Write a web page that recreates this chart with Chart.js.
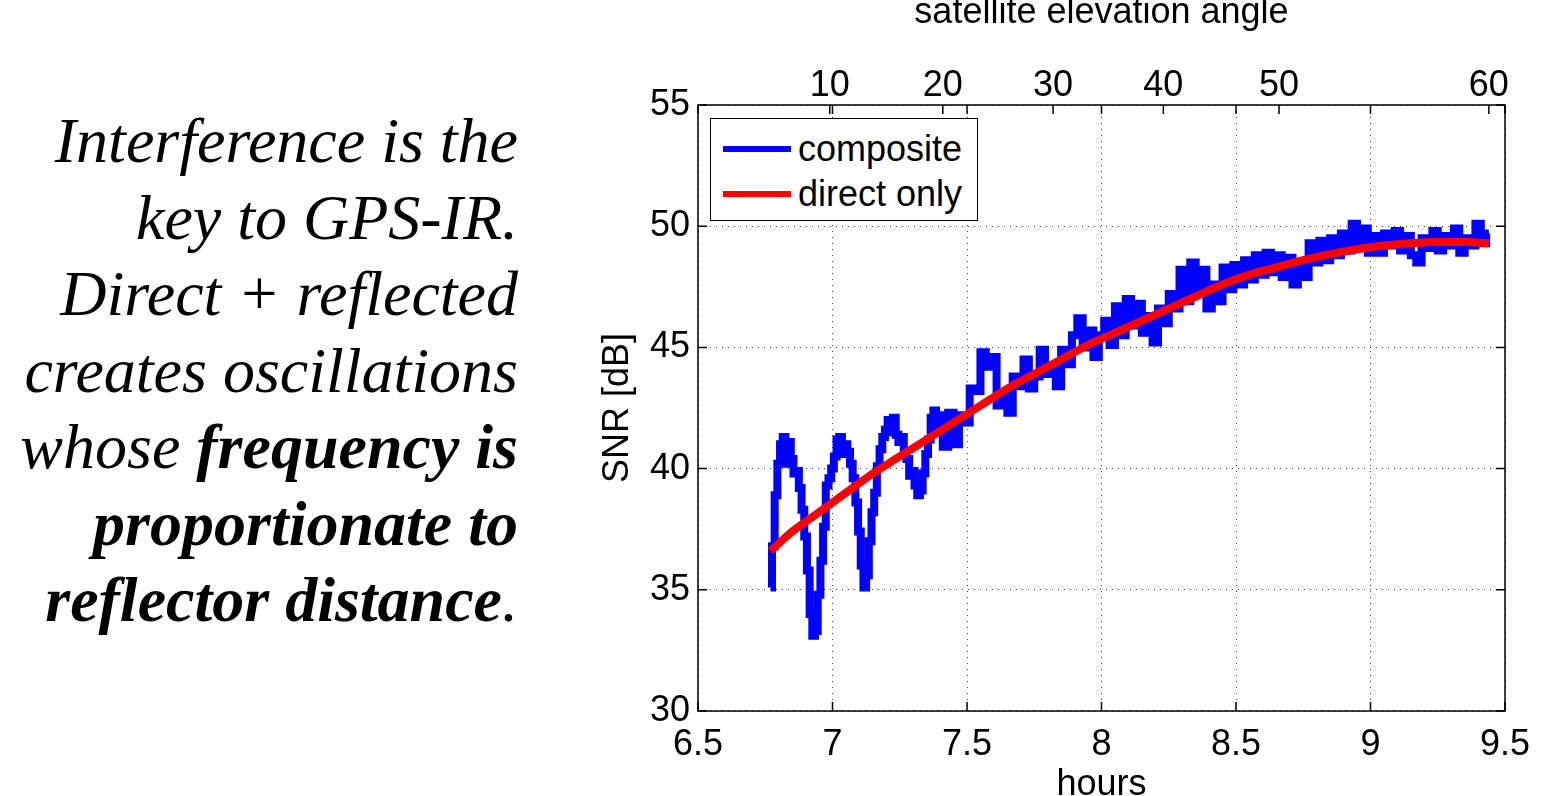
<!DOCTYPE html>
<html>
<head>
<meta charset="utf-8">
<script src="https://cdn.jsdelivr.net/npm/chart.js@4.4.1/dist/chart.umd.min.js"></script>
<style>
  html, body { margin: 0; padding: 0; background: #fff; }
  #wrap { position: relative; width: 1558px; height: 796px; overflow: hidden; }
  #snr { position: absolute; left: 0; top: 0; }
  #note {
    position: absolute; left: 0; top: 103px; width: 518px;
    text-align: right; white-space: nowrap; color: #000;
    font-family: "Liberation Serif", "Times New Roman", serif;
    font-style: italic; font-size: 64px; line-height: 76.5px;
  }
  #legend {
    position: absolute; left: 710px; top: 118px; width: 266px; height: 101px;
    border: 1px solid #000; background: #fff;
    font-family: "Liberation Sans", Arial, sans-serif; font-size: 36px; color: #000;
  }
  .row { position: absolute; left: 0; height: 40px; width: 100%; }
  .row i { position: absolute; left: 12px; top: 17px; width: 68px; height: 6px; }
  .row span { position: absolute; left: 87px; top: 0; line-height: 40px; }
</style>
</head>
<body>
<div id="wrap">
  <canvas id="snr" width="1558" height="796"></canvas>
  <div id="note">
    Interference is the<br>
    key to GPS-IR.<br>
    Direct + reflected<br>
    creates oscillations<br>
    whose <b>frequency is</b><br>
    <b>proportionate to</b><br>
    <b>reflector distance</b>.
  </div>
  <div id="legend">
    <div class="row" style="top:10px"><i style="background:#0000ff"></i><span>composite</span></div>
    <div class="row" style="top:55px"><i style="background:#ff0000"></i><span>direct only</span></div>
  </div>
</div>
<script>
// tick values
const xTicks = [6.5, 7, 7.5, 8, 8.5, 9, 9.5];
const yTicks = [30, 35, 40, 45, 50, 55];
// top axis: elevation angle and the hour where it is reached
const elevAngles = [10, 20, 30, 40, 50, 60];
const elevHours = [6.99, 7.41, 7.82, 8.23, 8.66, 9.44];

// composite SNR (direct + reflected)
const compHours = [
  6.77, 6.78, 6.79, 6.80, 6.81, 6.82, 6.83, 6.84, 6.85, 6.86,
  6.87, 6.88, 6.89, 6.90, 6.91, 6.92, 6.93, 6.94, 6.95, 6.96,
  6.97, 6.98, 6.99, 7.00, 7.01, 7.02, 7.03, 7.04, 7.05, 7.06,
  7.07, 7.08, 7.09, 7.10, 7.11, 7.12, 7.13, 7.14, 7.15, 7.16,
  7.17, 7.18, 7.19, 7.20, 7.21, 7.22, 7.23, 7.24, 7.25, 7.26,
  7.27, 7.28, 7.29, 7.30, 7.31, 7.32, 7.33, 7.34, 7.35, 7.36,
  7.37, 7.38, 7.39, 7.40,
  7.42, 7.44, 7.46, 7.48, 7.50, 7.52, 7.54, 7.56, 7.58, 7.60,
  7.62, 7.64, 7.66, 7.68, 7.70, 7.72, 7.74, 7.76, 7.78, 7.80,
  7.82, 7.84, 7.86, 7.88, 7.90, 7.92, 7.94, 7.96, 7.98, 8.00,
  8.02, 8.04, 8.06, 8.08, 8.10, 8.12, 8.14, 8.16, 8.18, 8.20,
  8.22, 8.24, 8.26, 8.28, 8.30, 8.32, 8.34, 8.36, 8.38, 8.40,
  8.42, 8.44, 8.46, 8.48, 8.50, 8.52, 8.54, 8.56, 8.58, 8.60,
  8.62, 8.64, 8.66, 8.68, 8.70, 8.72, 8.74, 8.76, 8.78, 8.80,
  8.82, 8.84, 8.86, 8.88, 8.90, 8.92, 8.94, 8.96, 8.98, 9.00,
  9.02, 9.04, 9.06, 9.08, 9.10, 9.12, 9.14, 9.16, 9.18, 9.20,
  9.22, 9.24, 9.26, 9.28, 9.30, 9.32, 9.34, 9.36, 9.38, 9.40,
  9.42, 9.44
];
const compSNR = [
  35.1, 36.8, 38.9, 40.2, 41.0, 41.3, 40.2, 41.1, 40.4, 39.8,
  39.9, 39.2, 38.3, 37.2, 35.8, 34.0, 33.1, 33.3, 34.8, 36.2,
  37.6, 39.3, 39.6, 40.0, 40.5, 41.2, 41.3, 40.6, 41.0, 40.7,
  40.2, 39.6, 38.6, 37.4, 36.0, 35.1, 35.6, 37.0, 38.2, 39.0,
  40.1, 40.8, 41.3, 41.6, 42.0, 41.5, 42.1, 41.4, 41.1, 41.3,
  40.6, 40.4, 39.7, 39.9, 39.3, 38.9, 39.1, 39.8, 40.6, 41.2,
  42.1, 42.4, 41.6, 42.2,
  40.9, 42.3, 41.0, 42.2, 41.9, 43.3, 43.2, 44.8, 44.2, 44.6,
  42.6, 43.0, 42.3, 43.8, 43.4, 44.5, 43.3, 43.8, 44.9, 43.9,
  44.2, 43.4, 44.9, 44.3, 45.5, 46.2, 45.0, 45.7, 44.6, 45.5,
  46.1, 45.1, 46.7, 45.5, 47.0, 45.9, 46.8, 45.6, 46.3, 45.2,
  46.6, 46.0, 47.2, 46.6, 48.2, 46.9, 48.5, 47.4, 48.2, 46.6,
  47.6, 46.9, 48.3, 47.4, 48.4, 47.6, 48.6, 47.8, 48.8, 48.0,
  48.9, 48.1, 48.8, 47.9, 48.7, 47.6, 48.5, 47.9, 49.3, 48.5,
  49.4, 48.6, 49.5, 48.8, 49.7, 49.0, 50.1, 49.3, 49.9, 48.9,
  49.6, 48.9, 49.7, 49.2, 49.8, 49.0, 49.6, 48.8, 48.5, 49.5,
  49.1, 49.8, 49.0, 49.6, 49.2, 49.9, 48.9, 49.5, 49.2, 50.1,
  49.3, 49.7
];

// direct-only SNR
const dirHours = [6.77, 6.85, 6.95, 7.05, 7.15, 7.25, 7.35, 7.45, 7.55, 7.65,
  7.75, 7.85, 7.95, 8.05, 8.15, 8.25, 8.35, 8.45, 8.55, 8.65,
  8.75, 8.85, 8.95, 9.05, 9.15, 9.25, 9.35, 9.44];
const dirSNR = [36.6, 37.4, 38.2, 39.0, 39.8, 40.5, 41.2, 41.9, 42.6, 43.3,
  43.9, 44.5, 45.1, 45.6, 46.1, 46.6, 47.1, 47.6, 48.0, 48.3,
  48.6, 48.85, 49.05, 49.2, 49.3, 49.35, 49.35, 49.3];

const toPts = (xs, ys) => xs.map((x, i) => ({ x: x, y: ys[i] }));

const axisFont = { family: "'Liberation Sans', Arial, sans-serif", size: 36 };
const gridDots = { color: "#444", lineWidth: 1, drawTicks: false };

// box round the plot and short inward tick marks, like matlab
const frame = {
  id: "frame",
  afterDatasetsDraw(chart) {
    const { ctx, chartArea: a, scales } = chart;
    const tl = 9;
    ctx.save();
    ctx.strokeStyle = "#000";
    ctx.lineWidth = 1.5;
    ctx.beginPath();
    scales.y.ticks.forEach((t) => {
      const py = scales.y.getPixelForValue(t.value);
      ctx.moveTo(a.left, py); ctx.lineTo(a.left + tl, py);
      ctx.moveTo(a.right, py); ctx.lineTo(a.right - tl, py);
    });
    scales.x.ticks.forEach((t) => {
      const px = scales.x.getPixelForValue(t.value);
      ctx.moveTo(px, a.bottom); ctx.lineTo(px, a.bottom - tl);
      ctx.moveTo(px, a.top); ctx.lineTo(px, a.top + tl);
    });
    scales.x2.ticks.forEach((t) => {
      const px = scales.x2.getPixelForValue(t.value);
      ctx.moveTo(px, a.top); ctx.lineTo(px, a.top + tl);
    });
    ctx.stroke();
    ctx.strokeRect(a.left, a.top, a.right - a.left, a.bottom - a.top);
    ctx.restore();
  },
};

new Chart(document.getElementById("snr"), {
  type: "line",
  data: {
    datasets: [
      {
        label: "direct only",
        data: toPts(dirHours, dirSNR),
        borderColor: "#ff0000",
        borderWidth: 8,
        cubicInterpolationMode: "monotone",
        pointRadius: 0,
        order: 0,
      },
      {
        label: "composite",
        data: toPts(compHours, compSNR),
        borderColor: "#0000ff",
        borderWidth: 8,
        stepped: "middle",
        pointRadius: 0,
        order: 1,
      },
    ],
  },
  options: {
    responsive: false,
    animation: false,
    devicePixelRatio: 1,
    layout: { padding: { left: 560, right: 53, top: 0, bottom: 0 } },
    plugins: { legend: { display: false }, tooltip: { enabled: false } },
    scales: {
      x: {
        type: "linear", position: "bottom", min: 6.5, max: 9.5,
        afterBuildTicks: (s) => { s.ticks = xTicks.map((v) => ({ value: v })); },
        afterFit: (s) => { s.height = 85; },
        ticks: { font: axisFont, color: "#000", padding: 12, maxRotation: 0, autoSkip: false,
          callback: (v) => String(v) },
        grid: gridDots,
        border: { display: false, dash: [1, 5] },
        title: { display: true, text: "hours", font: { ...axisFont, lineHeight: 0.58 }, color: "#000", padding: 0 },
      },
      x2: {
        type: "linear", position: "top", min: 6.5, max: 9.5,
        afterBuildTicks: (s) => { s.ticks = elevHours.map((v) => ({ value: v })); },
        afterFit: (s) => { s.height = 105; },
        ticks: { font: axisFont, color: "#000", padding: -3, maxRotation: 0, autoSkip: false,
          callback: (v, i) => String(elevAngles[i]) },
        grid: { display: false, drawTicks: false },
        border: { display: false },
        title: { display: true, text: "satellite elevation angle", font: { ...axisFont, lineHeight: 0.7 }, color: "#000", padding: 0 },
      },
      y: {
        type: "linear", position: "left", min: 30, max: 55,
        afterBuildTicks: (s) => { s.ticks = yTicks.map((v) => ({ value: v })); },
        afterFit: (s) => { s.width = 138; },
        ticks: { font: axisFont, color: "#000", padding: 8 },
        grid: gridDots,
        border: { display: false, dash: [1, 5] },
        title: { display: true, text: "SNR [dB]", font: { ...axisFont, lineHeight: 0.8 }, color: "#000", padding: { top: 44 } },
      },
    },
  },
  plugins: [frame],
});
</script>
</body>
</html>
